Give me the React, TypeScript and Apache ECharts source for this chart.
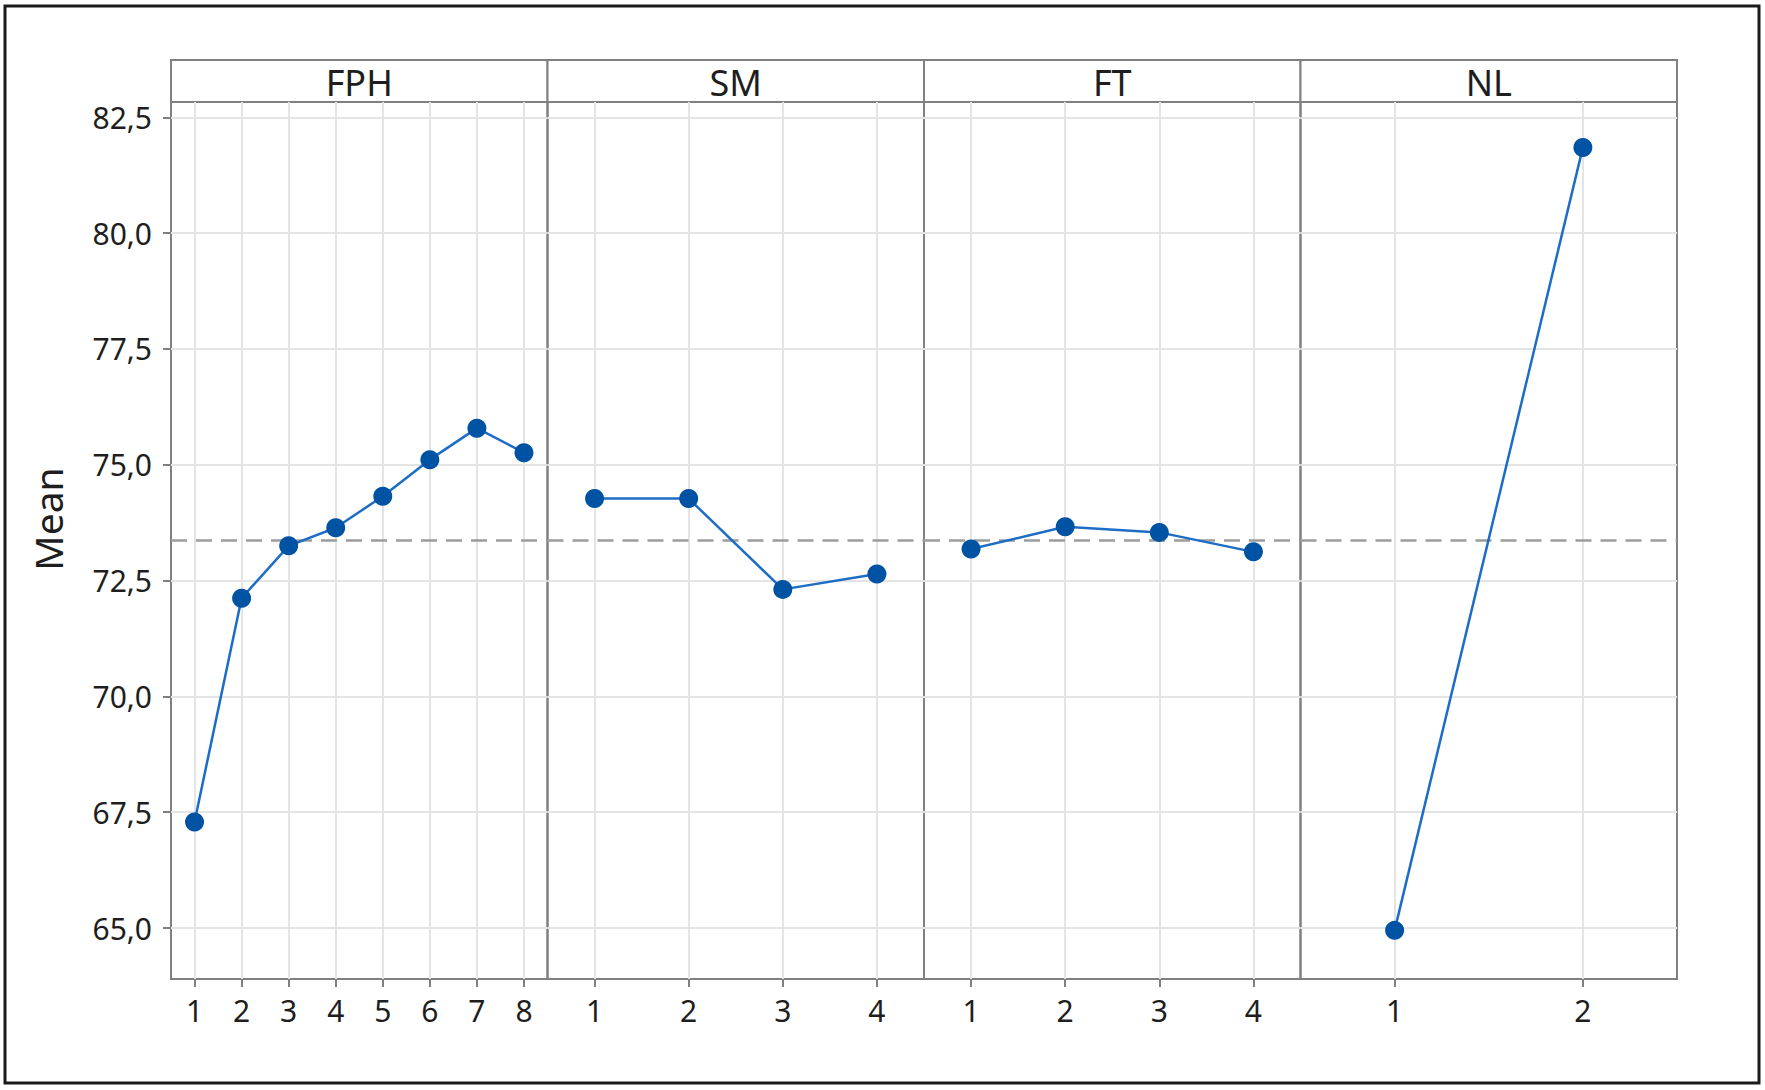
import * as echarts from "echarts"
import { useEffect, useRef } from "react"

// factor names shown in the strips above each panel
const panelNames = ["FPH", "SM", "FT", "NL"]

// levels (x ticks) per factor
const fphLevels = [1, 2, 3, 4, 5, 6, 7, 8]
const smLevels = [1, 2, 3, 4]
const ftLevels = [1, 2, 3, 4]
const nlLevels = [1, 2]

// mean response at each level
const fphMeans = [67.29, 72.12, 73.25, 73.64, 74.32, 75.11, 75.79, 75.26]
const smMeans = [74.27, 74.27, 72.31, 72.64]
const ftMeans = [73.18, 73.66, 73.54, 73.12]
const nlMeans = [64.95, 81.85]

const grandMean = 73.38
const yTicks = [65, 67.5, 70, 72.5, 75, 77.5, 80, 82.5]
const yMin = 63.9
const yMax = 82.83

// layout in px
const PLOT_LEFT = 171
const PLOT_RIGHT = 1677
const PLOT_TOP = 102
const PLOT_BOTTOM = 979
const STRIP_TOP = 60

const FONT = "'Noto Sans', 'Open Sans', sans-serif"
const BORDER = "#808080"
const GRID = "#e4e4e4"
const TEXT = "#1e1e1e"

export default function App() {
  const ref = useRef<HTMLDivElement>(null)

  useEffect(() => {
    if (!ref.current) return
    const chart = echarts.init(ref.current, null, { renderer: "svg" })

    const levels = [fphLevels, smLevels, ftLevels, nlLevels]
    const means = [fphMeans, smMeans, ftMeans, nlMeans]
    const w = (PLOT_RIGHT - PLOT_LEFT) / panelNames.length

    const grids = panelNames.map((_, i) => ({
      left: PLOT_LEFT + i * w,
      top: PLOT_TOP,
      width: w,
      height: PLOT_BOTTOM - PLOT_TOP,
      show: true,
      borderColor: BORDER,
      borderWidth: 2,
      backgroundColor: "transparent",
      containLabel: false,
      outerBoundsMode: "none",
    }))

    const xAxes = panelNames.map((_, i) => ({
      type: "value",
      gridIndex: i,
      min: 0.5,
      max: levels[i].length + 0.5,
      axisLine: { show: false },
      axisTick: {
        show: true,
        customValues: levels[i],
        length: 8,
        lineStyle: { color: BORDER, width: 2 },
      },
      axisLabel: {
        customValues: levels[i],
        fontSize: 30,
        fontFamily: FONT,
        color: TEXT,
        margin: 16,
      },
      splitLine: { show: true, lineStyle: { color: GRID, width: 2 } },
    }))

    const yAxes = panelNames.map((_, i) => ({
      type: "value",
      gridIndex: i,
      min: yMin,
      max: yMax,
      axisLine: { show: false },
      axisTick: {
        show: i === 0,
        customValues: yTicks,
        length: 8,
        lineStyle: { color: BORDER, width: 2 },
      },
      axisLabel: {
        show: i === 0,
        customValues: yTicks,
        fontSize: 30,
        fontFamily: FONT,
        color: TEXT,
        margin: 19,
        formatter: (v: number) => v.toFixed(1).replace(".", ","),
      },
      splitLine: { show: true, lineStyle: { color: GRID, width: 2 } },
    }))

    const series = panelNames.map((name, i) => ({
      name,
      type: "line",
      xAxisIndex: i,
      yAxisIndex: i,
      data: levels[i].map((l, j) => [l, means[i][j]]),
      symbol: "circle",
      symbolSize: 19,
      lineStyle: { color: "#1d6cc6", width: 2.5 },
      itemStyle: { color: "#0052a3" },
      z: 3,
      markLine: {
        silent: true,
        symbol: ["none", "none"],
        label: { show: false },
        z: 1,
        lineStyle: { color: "#9c9c9c", type: [16, 9], width: 2.5 },
        data: [{ yAxis: grandMean }],
      },
    }))

    const strips = panelNames.flatMap((name, i) => [
      {
        type: "rect",
        shape: { x: PLOT_LEFT + i * w, y: STRIP_TOP, width: w, height: PLOT_TOP - STRIP_TOP },
        style: { fill: "#fff", stroke: BORDER, lineWidth: 2 },
      },
      {
        type: "text",
        x: PLOT_LEFT + i * w + w / 2,
        y: (STRIP_TOP + PLOT_TOP) / 2 + 1,
        style: {
          text: name,
          fontSize: 36,
          fontFamily: FONT,
          fill: TEXT,
          align: "center",
          verticalAlign: "middle",
          textAlign: "center",
          textVerticalAlign: "middle",
        },
      },
    ])

    chart.setOption({
      animation: false,
      backgroundColor: "#fff",
      grid: grids,
      xAxis: xAxes,
      yAxis: yAxes,
      series,
      graphic: [
        {
          type: "rect",
          shape: { x: 5, y: 6, width: 1754, height: 1077 },
          style: { fill: "none", stroke: "#1a1a1a", lineWidth: 3 },
        },
        ...strips,
        {
          type: "text",
          x: 47,
          y: 519,
          rotation: Math.PI / 2,
          style: {
            text: "Mean",
            fontSize: 39,
            fontFamily: FONT,
            fill: TEXT,
            align: "center",
            verticalAlign: "middle",
            textAlign: "center",
            textVerticalAlign: "middle",
          },
        },
      ],
    })

    return () => chart.dispose()
  }, [])

  return (
    <div
      ref={ref}
      style={{ position: "fixed", left: 0, top: 0, width: 1765, height: 1090, background: "#fff" }}
    />
  )
}
